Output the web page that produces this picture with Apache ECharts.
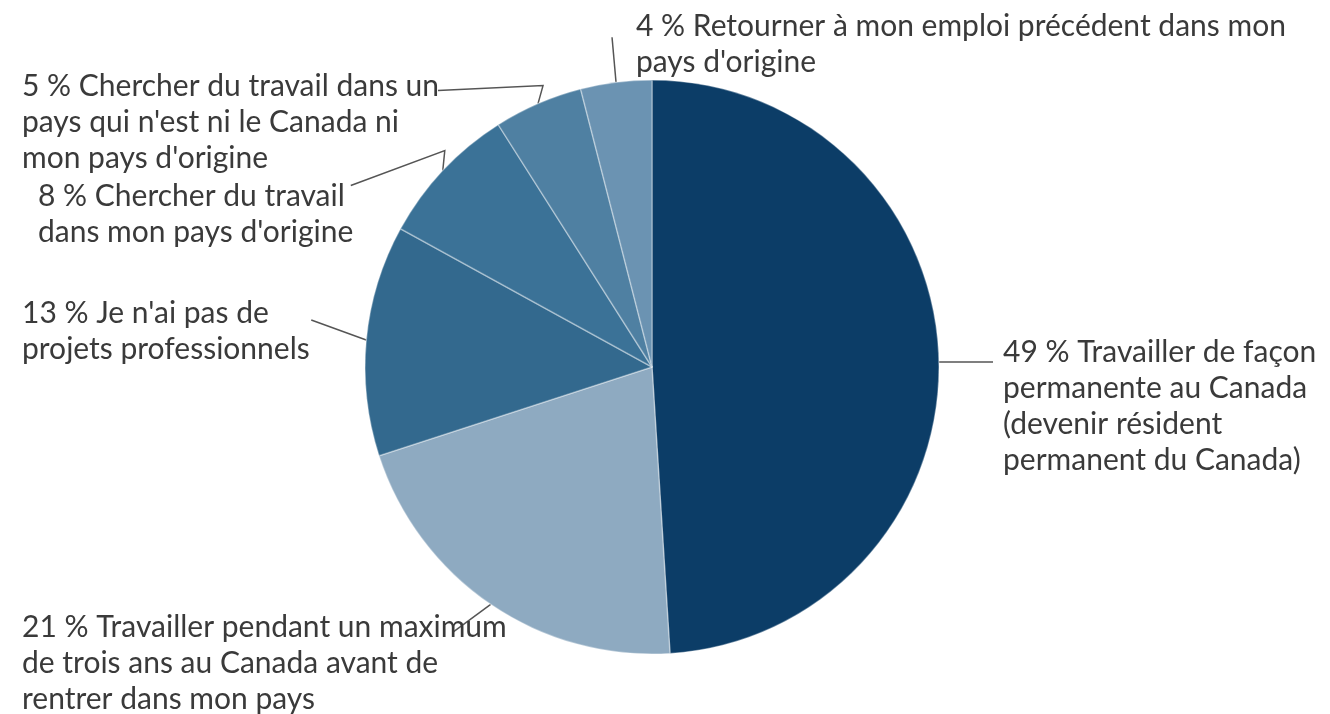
<!DOCTYPE html>
<html>
<head>
<meta charset="utf-8">
<script src="https://cdn.jsdelivr.net/npm/echarts@6/dist/echarts.min.js"></script>
<style>html,body{margin:0;padding:0;background:#fff;}#c{width:1330px;height:714px;}</style>
</head>
<body>
<div id="c"></div>
<script>
// Data
const categories = [
  "Travailler de façon\npermanente au Canada\n(devenir résident\npermanent du Canada)",
  "Travailler pendant un maximum\nde trois ans au Canada avant de\nrentrer dans mon pays",
  "Je n'ai pas de\nprojets professionnels",
  "Chercher du travail\ndans mon pays d'origine",
  "Chercher du travail dans un\npays qui n'est ni le Canada ni\nmon pays d'origine",
  "Retourner à mon emploi précédent dans mon\npays d'origine"
];
const values = [49, 21, 13, 8, 5, 4];
const colors = ["#0c3d67", "#8eaac1", "#33698e", "#3b7297", "#4f80a2", "#6b93b2"];

// Label placement (style only)
const labelPos = [
  {x: 1003, y: 334},
  {x: 22, y: 609},
  {x: 22, y: 295},
  {x: 38, y: 178},
  {x: 22, y: 68},
  {x: 636, y: 8}
];

const chart = echarts.init(document.getElementById('c'), null, {renderer: 'canvas'});
chart.setOption({
  animation: false,
  backgroundColor: '#fff',
  series: [{
    type: 'pie',
    center: [652, 367],
    radius: 287,
    startAngle: 90,
    clockwise: true,
    avoidLabelOverlap: false,
    data: values.map((v, i) => ({value: v, name: categories[i], itemStyle: {color: colors[i]}})),
    itemStyle: {borderColor: 'rgba(255,255,255,0.35)', borderWidth: 1.5},
    label: {
      show: true,
      formatter: p => p.value + ' % ' + p.name,
      fontFamily: 'Lato',
      fontSize: 30,
      lineHeight: 36,
      color: '#3a3a3a'
    },
    labelLine: {show: true, lineStyle: {color: '#555', width: 1.5}},
    labelLayout: function (params) {
      const i = params.dataIndex;
      const p0 = params.labelLinePoints ? params.labelLinePoints[0] : [0, 0];
      const pos = labelPos[i];
      let pts;
      if (i === 0) pts = [[p0[0], p0[1] + 4], [pos.x - 10, p0[1] + 4]];
      else if (i === 1) pts = [p0, [p0[0] - 38, p0[1] + 28]];
      else if (i === 2) pts = [p0, [p0[0] - 55, p0[1] - 20]];
      else if (i === 3) pts = [p0, [p0[0] + 2, p0[1] - 20], [p0[0] - 92, p0[1] + 15]];
      else if (i === 4) pts = [p0, [p0[0] + 5, p0[1] - 18], [p0[0] - 100, p0[1] - 13]];
      else pts = [p0, [p0[0] - 4, p0[1] - 45]];
      return {x: pos.x, y: pos.y, align: 'left', verticalAlign: 'top', labelLinePoints: pts};
    }
  }]
});
</script>
</body>
</html>
